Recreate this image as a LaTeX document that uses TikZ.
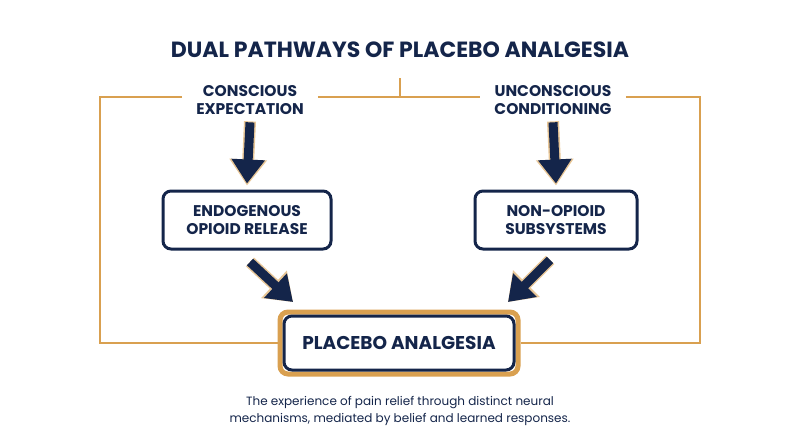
\documentclass[tikz,border=0pt]{standalone}
\usepackage{fontspec}
\setmainfont{Poppins}
\usetikzlibrary{arrows.meta,positioning}
\definecolor{navy}{HTML}{14254A}
\definecolor{gold}{HTML}{D9A050}
\tikzset{
  lbl/.style={font=\bfseries\fontsize{15.5}{18.5}\selectfont, text=navy, align=center},
  box/.style={lbl, draw=navy, line width=3pt, rounded corners=8pt, minimum width=168pt, minimum height=58pt, fill=white},
  frame/.style={gold, line width=1.4pt},
  flow/.style={navy, line width=9pt, -{Triangle[length=24pt,width=32pt]}},
  glow/.style={gold!60, line width=12pt, -{Triangle[length=26pt,width=36pt]}}
}
\begin{document}
\begin{tikzpicture}[x=1pt,y=-1pt]
  \useasboundingbox (0,0) rectangle (800,447);

  \node[lbl, font=\bfseries\fontsize{22}{26}\selectfont] (title) at (400,50) {DUAL PATHWAYS OF PLACEBO ANALGESIA};
  \node[lbl, inner xsep=14pt] (conscious) at (250,100) {CONSCIOUS\\EXPECTATION};
  \node[lbl, inner xsep=14pt] (unconscious) at (553,100) {UNCONSCIOUS\\CONDITIONING};
  \node[box] (opioid) at (247,220) {ENDOGENOUS\\OPIOID RELEASE};
  \node[box, minimum width=162pt] (nonopioid) at (556,220) {NON-OPIOID\\SUBSYSTEMS};
  \node[box, draw=gold, line width=5pt, minimum width=238pt, minimum height=62pt] (outer) at (399,343) {};
  \node[box, font=\bfseries\fontsize{18.5}{21}\selectfont, minimum width=230pt, minimum height=54pt] (analgesia) at (399,343) {PLACEBO ANALGESIA};
  \node[font=\fontsize{12}{17}\selectfont, text=navy, align=center] (caption) at (400,411)
    {The experience of pain relief through distinct neural\\mechanisms, mediated by belief and learned responses.};

  % orange frame
  \coordinate (tl) at (100,97);
  \coordinate (tr) at (700,97);
  \coordinate (top) at (400,78);
  \draw[frame] (conscious.west |- tl) -- (tl) |- (outer.west);
  \draw[frame] (unconscious.east |- tr) -- (tr) |- (outer.east);
  \draw[frame] (conscious.east |- tl) -- (unconscious.west |- tr);
  \draw[frame] (top) -- (top |- tl);

  % arrows
  \foreach \a/\b in {conscious/opioid, unconscious/nonopioid} {
    \draw[glow] ([yshift=-3pt]\a.south) -- ([yshift=4pt]\b.north);
    \draw[flow] ([yshift=-4pt]\a.south) -- ([yshift=6pt]\b.north);
  }
  \coordinate (l1) at (250,262);
  \coordinate (l2) at (293,302);
  \coordinate (r1) at (550,260);
  \coordinate (r2) at (508,302);
  \draw[glow] (l1) -- (l2);
  \draw[flow] (l1) -- (l2);
  \draw[glow] (r1) -- (r2);
  \draw[flow] (r1) -- (r2);
\end{tikzpicture}
\end{document}
